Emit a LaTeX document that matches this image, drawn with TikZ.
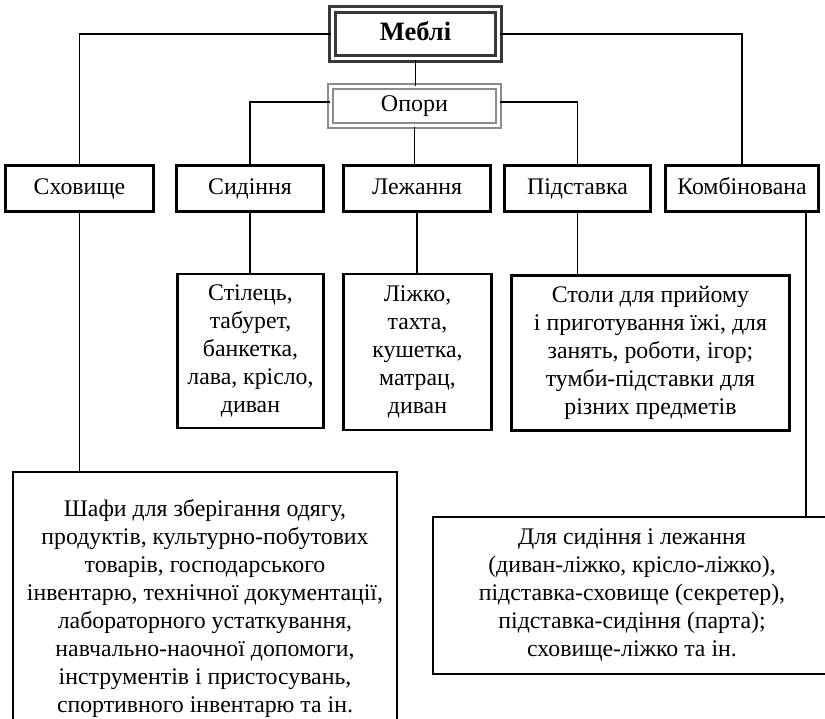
\documentclass[tikz,border=0pt]{standalone}
\usepackage{fontspec}
\setmainfont{Liberation Serif}
\begin{document}
\begin{tikzpicture}[x=1pt,y=-1pt,
  box/.style={draw=black, line width=2.3pt, fill=white, inner sep=0pt, align=center,
    font=\fontsize{23.8}{28}\selectfont},
  onebox/.style={box, text height=16pt, text depth=5pt},
  rootbox/.style={draw=black!78, double=white, double distance=3pt, line width=3pt,
    inner sep=0pt, text height=17pt, text depth=5pt, font=\fontsize{26.5}{30}\selectfont\bfseries},
  supbox/.style={draw=black!45, double=white, double distance=3pt, line width=2pt,
    inner sep=0pt, text height=16pt, text depth=5pt, font=\fontsize{24}{28}\selectfont},
  conn/.style={line width=1.5pt}]
\clip (0,0) rectangle (825,718);
\fill[white] (0,0) rectangle (825,718);

\node[rootbox, minimum width=166pt, minimum height=49pt] (mebli) at (415.5,34) {Меблі};
\node[supbox, minimum width=168pt, minimum height=39pt] (opory) at (414.5,106) {Опори};

\node[onebox, minimum width=148pt, minimum height=46pt] (skhov) at (79.5,188.5) {Сховище};
\node[onebox, minimum width=147pt, minimum height=46pt] (syd) at (250,188.5) {Сидіння};
\node[onebox, minimum width=147pt, minimum height=46pt] (lezh) at (417,188.5) {Лежання};
\node[onebox, minimum width=146pt, minimum height=46pt] (pidst) at (577.5,188.5) {Підставка};
\node[onebox, minimum width=153pt, minimum height=46pt] (komb) at (742,188.5) {Комбінована};

\node[box, minimum width=146pt, minimum height=154pt] (stil) at (250.5,351)
  {Стілець,\\табурет,\\банкетка,\\лава, крісло,\\диван};
\node[box, minimum width=148pt, minimum height=156pt] (lizh) at (417.5,352)
  {Ліжко,\\тахта,\\кушетка,\\матрац,\\диван};
\node[box, minimum width=278pt, minimum height=155pt] (stoly) at (650.5,353)
  {Столи для прийому\\і приготування їжі, для\\занять, роботи, ігор;\\тумби-підставки для\\різних предметів};
\node[box, minimum width=384pt, minimum height=272pt, anchor=north] (shafy) at (205,471)
  {Шафи для зберігання одягу,\\продуктів, культурно-побутових\\товарів, господарського\\інвентарю, технічної документації,\\лабораторного устаткування,\\навчально-наочної допомоги,\\інструментів і пристосувань,\\спортивного інвентарю та ін.};
\node[box, minimum width=398pt, minimum height=157pt] (komby) at (632,595.5)
  {Для сидіння і лежання\\(диван-ліжко, крісло-ліжко),\\підставка-сховище (секретер),\\підставка-сидіння (парта);\\сховище-ліжко та ін.};

\draw[conn] (mebli.south) -- (mebli.south |- opory.north);
\draw[conn] (mebli.west) -| (skhov.north);
\draw[conn] (mebli.east) -| (komb.north);
\draw[conn] ([yshift=4pt]opory.west) -| (syd.north);
\draw[conn] ([yshift=4pt]opory.east) -| (pidst.north);
\draw[conn] (opory.south) -- (opory.south |- lezh.north);

\draw[conn] (skhov.south) -- (skhov.south |- shafy.north);
\draw[conn] (syd.south) -- (syd.south |- stil.north);
\draw[conn] (lezh.south) -- (lezh.south |- lizh.north);
\draw[conn] (pidst.south) -- (pidst.south |- stoly.north);
\coordinate (kout) at ([xshift=64pt]komb.south);
\draw[conn] (kout) -- (kout |- komby.north);
\end{tikzpicture}
\end{document}
